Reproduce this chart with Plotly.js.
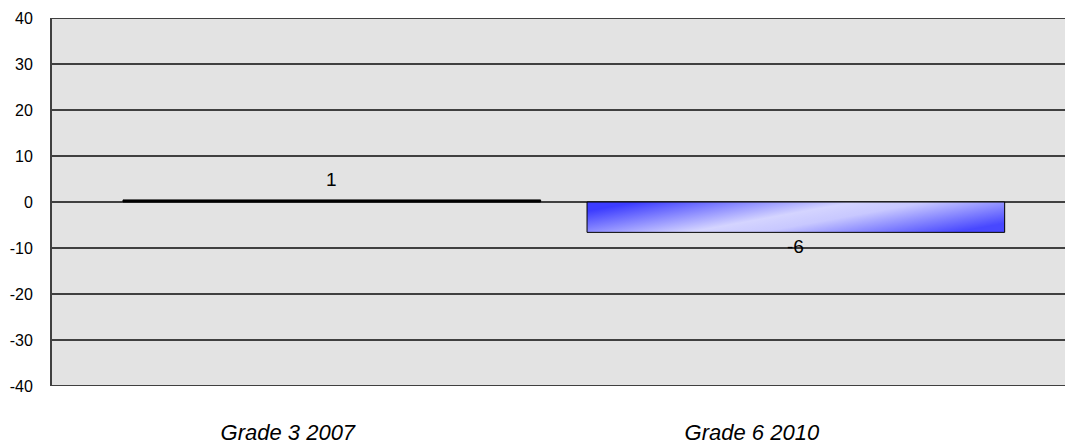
<!DOCTYPE html>
<html><head><meta charset="utf-8">
<script src="https://cdn.plot.ly/plotly-3.0.1.min.js"></script>
<style>html,body{margin:0;padding:0;background:#fff;overflow:hidden;}#chart{width:1065px;height:447px;}</style>
</head><body><div id="chart"></div>
<script>
var categories = ["Grade 3 2007", "Grade 6 2010"];
var values = [0.45, -6.6];
var valueLabels = ["1", "-6"];
var yTicks = [-40, -30, -20, -10, 0, 10, 20, 30, 40];

var trace = {
  type: 'bar',
  x: categories,
  y: values,
  width: 0.9,
  marker: {color: ['#000000', '#7878ff'], line: {color: '#000000', width: 1}},
  hoverinfo: 'none'
};

var annotations = categories.map(function(c, i){
  return {x: c, y: values[i], text: valueLabels[i], showarrow: false,
    yshift: values[i] >= 0 ? 20 : -14,
    font: {family: 'Liberation Sans, Arial', size: 19, color: '#000'}};
});

var yMin = yTicks[0], yMax = yTicks[yTicks.length - 1];

var layout = {
  width: 1065, height: 447,
  margin: {l: 52, r: 0, t: 18, b: 61, pad: 0},
  paper_bgcolor: '#ffffff',
  plot_bgcolor: '#e3e3e3',
  showlegend: false,
  xaxis: {
    type: 'category',
    range: [-0.603, 1.58],
    showgrid: false, zeroline: false,
    showline: false,
    ticks: '', ticklabelstandoff: 31, ticklabelshift: -44,
    tickfont: {family: 'Liberation Sans, Arial', size: 22, color: '#000', style: 'italic'}
  },
  yaxis: {
    range: [yMin, yMax],
    tickvals: yTicks,
    ticktext: yTicks.map(String),
    showgrid: true, gridcolor: '#404040', gridwidth: 2,
    zeroline: true, zerolinecolor: '#404040', zerolinewidth: 2,
    showline: true, linecolor: '#404040', linewidth: 2,
    ticks: '', ticklabelstandoff: 14,
    tickfont: {family: 'Liberation Sans, Arial', size: 16, color: '#000'}
  },
  shapes: [
    {type: 'rect', xref: 'paper', yref: 'y', x0: 0, x1: 1.01, y0: yMin, y1: yMax,
     fillcolor: '#e3e3e3', line: {width: 0}, layer: 'below'},
    {type: 'line', xref: 'paper', yref: 'y', x0: 0, x1: 1.01, y0: yMax, y1: yMax,
     line: {color: '#404040', width: 2}, layer: 'above'},
    {type: 'line', xref: 'paper', yref: 'y', x0: 0, x1: 1.01, y0: yMin, y1: yMin,
     line: {color: '#404040', width: 2}, layer: 'above'}
  ],
  annotations: annotations
};

Plotly.newPlot('chart', [trace], layout, {staticPlot: true, displayModeBar: false}).then(function(gd){
  var svg = gd.querySelector('svg.main-svg');
  var ns = 'http://www.w3.org/2000/svg';
  var defs = svg.querySelector('defs') || svg.insertBefore(document.createElementNS(ns, 'defs'), svg.firstChild);
  var g = document.createElementNS(ns, 'linearGradient');
  g.setAttribute('id', 'barGrad');
  g.setAttribute('x1', '0'); g.setAttribute('y1', '0.3');
  g.setAttribute('x2', '1'); g.setAttribute('y2', '0.7');
  [['0', '#3c3cff'], ['0.45', '#d4d4ff'], ['0.6', '#c8c8ff'], ['1', '#4848ff']].forEach(function(s){
    var st = document.createElementNS(ns, 'stop');
    st.setAttribute('offset', s[0]); st.setAttribute('stop-color', s[1]);
    g.appendChild(st);
  });
  defs.appendChild(g);
  var paths = gd.querySelectorAll('.bars .point path');
  if (paths[1]) { paths[1].style.fill = 'url(#barGrad)'; paths[1].style.fillOpacity = 1; }
});
</script></body></html>
